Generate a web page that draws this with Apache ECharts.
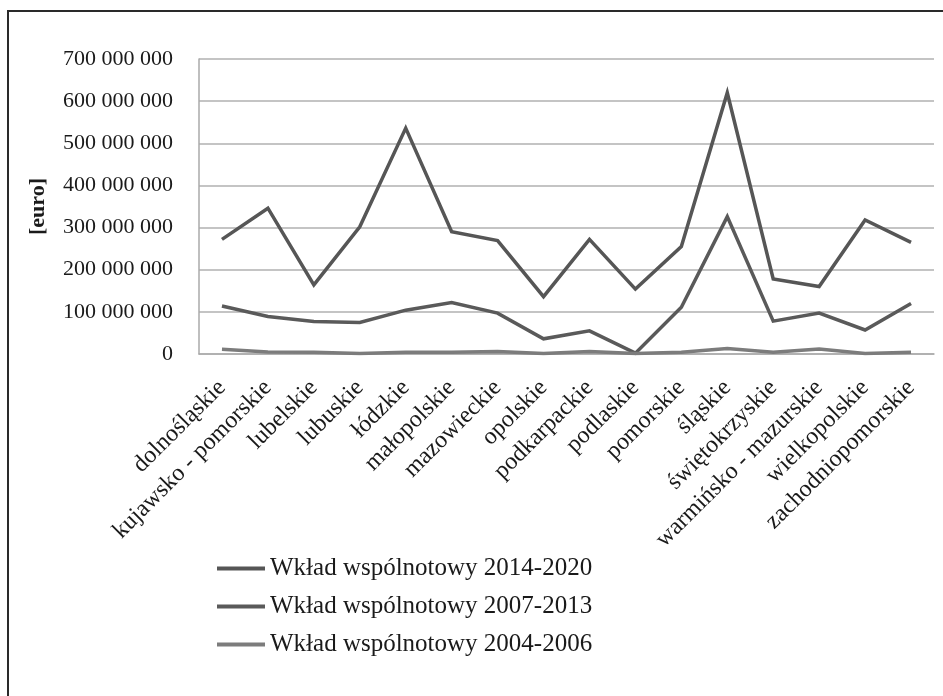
<!DOCTYPE html>
<html>
<head>
<meta charset="utf-8">
<style>
  html, body { margin: 0; padding: 0; background: #fff; }
  #chart { width: 943px; height: 696px; }
</style>
<script src="https://cdn.jsdelivr.net/npm/echarts@6/dist/echarts.min.js"></script>
</head>
<body>
<div id="chart"></div>
<script>
// Voivodeships (regions) on the category axis
const regions = [
  'dolnośląskie', 'kujawsko - pomorskie', 'lubelskie', 'lubuskie', 'łódzkie',
  'małopolskie', 'mazowieckie', 'opolskie', 'podkarpackie', 'podlaskie',
  'pomorskie', 'śląskie', 'świętokrzyskie', 'warmińsko - mazurskie',
  'wielkopolskie', 'zachodniopomorskie'
];

// Community contribution per region, in millions of euro
const contrib2014_2020 = [272, 346, 164, 302, 536, 290, 269, 136, 272, 154, 255, 620, 178, 160, 318, 265];
const contrib2007_2013 = [114, 89, 77, 75, 104, 122, 97, 36, 55, 2, 111, 326, 78, 97, 57, 120];
const contrib2004_2006 = [11, 5, 4, 1, 4, 4, 6, 1, 6, 1, 4, 13, 4, 12, 1, 4];

const seriesNames = [
  'Wkład wspólnotowy 2014-2020',
  'Wkład wspólnotowy 2007-2013',
  'Wkład wspólnotowy 2004-2006'
];

// Value axis: 0 .. 700 000 000 euro, step 100 000 000
const yMin = 0, yMax = 700000000, yStep = 100000000;

const MLN = 1000000;
const toEuro = arr => arr.map(v => v * MLN);

const serif = '"Liberation Serif", "DejaVu Serif", serif';
const textColor = '#1a1a1a';

function spaced(v) {
  return String(Math.round(v)).replace(/\B(?=(\d{3})+(?!\d))/g, ' ');
}

const chart = echarts.init(document.getElementById('chart'), null, { renderer: 'canvas' });

function lineSeries(name, data, color) {
  return {
    name: name,
    type: 'line',
    data: toEuro(data),
    showSymbol: false,
    symbol: 'none',
    lineStyle: { color: color, width: 3.5, join: 'miter' },
    itemStyle: { color: color },
    emphasis: { disabled: true }
  };
}

chart.setOption({
  animation: false,
  backgroundColor: '#ffffff',
  graphic: [{
    type: 'rect',
    shape: { x: 8, y: 11, width: 1200, height: 1200 },
    style: { fill: 'none', stroke: '#2a2a2a', lineWidth: 2 },
    silent: true
  }],
  grid: { left: 199, right: 9, top: 59, bottom: 342, containLabel: false },
  legend: {
    orient: 'vertical',
    left: 217,
    top: 556,
    padding: 0,
    icon: 'rect',
    itemWidth: 48,
    itemHeight: 4,
    itemGap: 13,
    data: seriesNames,
    textStyle: { fontFamily: serif, fontSize: 25, color: textColor, lineHeight: 25 }
  },
  xAxis: {
    type: 'category',
    data: regions,
    boundaryGap: true,
    axisLine: { show: true, lineStyle: { color: '#aaaaaa', width: 1.5 } },
    axisTick: { show: false },
    axisLabel: {
      interval: 0,
      rotate: 45,
      margin: 30,
      fontFamily: serif,
      fontSize: 24,
      color: textColor
    }
  },
  yAxis: {
    type: 'value',
    min: yMin,
    max: yMax,
    interval: yStep,
    name: '[euro]',
    nameLocation: 'middle',
    nameRotate: 90,
    nameGap: 150,
    nameTextStyle: { fontFamily: serif, fontSize: 22, fontWeight: 'bold', color: textColor },
    axisLine: { show: true, lineStyle: { color: '#aaaaaa', width: 1.5 } },
    axisTick: { show: false },
    splitLine: { show: true, lineStyle: { color: '#b0b0b0', width: 1.5 } },
    axisLabel: {
      margin: 26,
      fontFamily: serif,
      fontSize: 22,
      color: textColor,
      formatter: spaced
    }
  },
  series: [
    lineSeries(seriesNames[0], contrib2014_2020, '#565656'),
    lineSeries(seriesNames[1], contrib2007_2013, '#5a5a5a'),
    lineSeries(seriesNames[2], contrib2004_2006, '#7c7c7c')
  ]
});
</script>
</body>
</html>
